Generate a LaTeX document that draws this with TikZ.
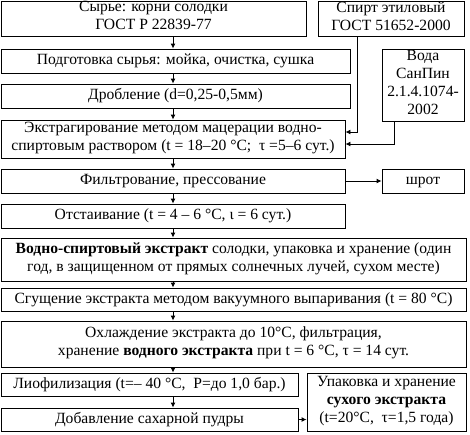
\documentclass[tikz,border=0pt]{standalone}
\usepackage{fontspec}
\setmainfont{Liberation Serif}
\usetikzlibrary{arrows.meta}

\begin{document}
\begin{tikzpicture}[
  x=1pt, y=-1pt,
  stage/.style={draw, line width=0.9pt, align=center, inner sep=0pt,
    font=\fontsize{15.6}{18}\selectfont,
    execute at begin node=\strut, execute at end node=\strut},
  arrow/.style={-{Latex[length=5pt,width=5pt]}, line width=0.9pt}
]
\useasboundingbox (0,0) rectangle (470,434);

% Main line
\node[stage, minimum width=305pt, minimum height=35pt] (raw) at (153.5,18.5)
  {Сырье: корни солодки\\ГОСТ Р 22839-77};
\node[stage, minimum width=349pt, minimum height=24pt] (prep) at (175.5,61)
  {Подготовка сырья: мойка, очистка, сушка};
\node[stage, minimum width=349pt, minimum height=24pt] (crush) at (175.5,96)
  {Дробление (d=0,25-0,5мм)};
\node[stage, minimum width=344pt, minimum height=38pt] (extr) at (173,139)
  {Экстрагирование методом мацерации водно-\\спиртовым раствором (t = 18–20 °С;\ \ τ =5–6 сут.)};
\node[stage, minimum width=344pt, minimum height=24pt] (filt) at (173,181)
  {Фильтрование, прессование};
\node[stage, minimum width=344pt, minimum height=24pt] (settle) at (173,216)
  {Отстаивание (t = 4 – 6 °С, ι = 6 сут.)};
\node[stage, minimum width=465pt, minimum height=43pt] (store) at (233.5,259.5)
  {\textbf{Водно-спиртовый экстракт} солодки, упаковка и хранение (один\\год, в защищенном от прямых солнечных лучей, сухом месте)};
\node[stage, minimum width=465pt, minimum height=23pt] (evap) at (233.5,299.5)
  {Сгущение экстракта методом вакуумного выпаривания (t = 80 °С)};
\node[stage, minimum width=465pt, minimum height=46pt] (cool) at (233.5,344)
  {Охлаждение экстракта до 10°С, фильтрация,\\хранение \textbf{водного экстракта} при t = 6 °С, τ = 14 сут.};
\node[stage, minimum width=297pt, minimum height=23pt] (lyo) at (149.5,384.5)
  {Лиофилизация (t=– 40 °С,\ \ Р=до 1,0 бар.)};
\node[stage, minimum width=297pt, minimum height=23pt] (sugar) at (149.5,419.5)
  {Добавление сахарной пудры};

% Side boxes
\node[stage, minimum width=146pt, minimum height=35pt] (spirit) at (391,18.5)
  {Спирт этиловый\\ГОСТ 51652-2000};
\node[stage, minimum width=82pt, minimum height=72pt] (water) at (423,85)
  {Вода\\СанПин\\2.1.4.1074-\\2002};
\node[stage, minimum width=82pt, minimum height=24pt] (cake) at (423,181)
  {шрот};
\node[stage, minimum width=159pt, minimum height=58pt] (pack) at (386.5,402)
  {Упаковка и хранение\\\textbf{сухого экстракта}\\(t=20°С,\ \ τ=1,5 года)};

\coordinate (ax) at (173,0);
\coordinate (sx) at (357,132);
\coordinate (wx) at (394,144);

\draw[arrow] (raw.south -| ax) -- (prep.north -| ax);
\draw[arrow] (prep.south -| ax) -- (crush.north -| ax);
\draw[arrow] (crush.south -| ax) -- (extr.north -| ax);
\draw[arrow] (extr.south -| ax) -- (filt.north -| ax);
\draw[arrow] (filt.south -| ax) -- (settle.north -| ax);
\draw[arrow] (settle.south -| ax) -- (store.north -| ax);
\draw[arrow] (store.south -| ax) -- (evap.north -| ax);
\draw[arrow] (evap.south -| ax) -- (cool.north -| ax);
\draw[arrow] (cool.south -| ax) -- (lyo.north -| ax);
\draw[arrow] (lyo.south -| ax) -- (sugar.north -| ax);

\draw[arrow] (spirit.south -| sx) |- (extr.east |- sx);
\draw[arrow] (water.south -| wx) |- (extr.east |- wx);
\draw[arrow] (filt.east) -- (cake.west);
\draw[arrow] (sugar.east) -- (pack.west |- sugar.east);

\end{tikzpicture}
\end{document}
